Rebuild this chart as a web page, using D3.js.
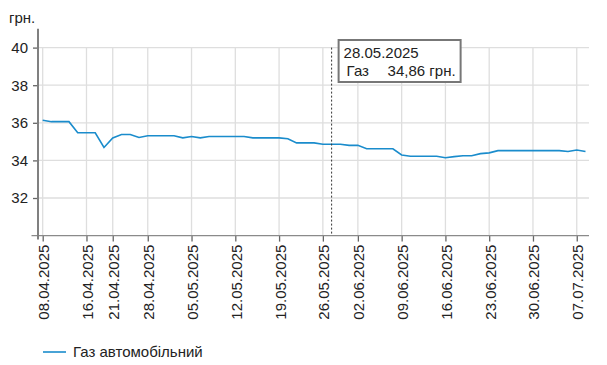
<!DOCTYPE html>
<html><head><meta charset="utf-8">
<script src="https://cdn.jsdelivr.net/npm/d3@7"></script>
<style>
html,body{margin:0;padding:0;background:#fff;}
text{font-family:"Liberation Sans",Arial,sans-serif;fill:#222;}
</style></head>
<body><svg id="c" width="607" height="365"></svg>
<script>
const dates = [
"08.04.2025","09.04.2025","11.04.2025","14.04.2025","15.04.2025","16.04.2025",
"17.04.2025","18.04.2025","21.04.2025",
"22.04.2025","23.04.2025","24.04.2025","28.04.2025",
"29.04.2025","30.04.2025","01.05.2025","02.05.2025","05.05.2025",
"06.05.2025","07.05.2025","08.05.2025","09.05.2025","12.05.2025",
"13.05.2025","14.05.2025","15.05.2025","16.05.2025","19.05.2025",
"20.05.2025","21.05.2025","22.05.2025","23.05.2025","26.05.2025",
"28.05.2025","29.05.2025","30.05.2025","02.06.2025",
"03.06.2025","04.06.2025","05.06.2025","06.06.2025","09.06.2025",
"10.06.2025","11.06.2025","12.06.2025","13.06.2025","16.06.2025",
"17.06.2025","18.06.2025","19.06.2025","20.06.2025","23.06.2025",
"24.06.2025","25.06.2025","26.06.2025","27.06.2025","30.06.2025",
"01.07.2025","02.07.2025","03.07.2025","04.07.2025","07.07.2025",
"08.07.2025"];
const gasPrices = [
36.14,36.06,36.06,36.06,35.47,35.47,
35.47,34.69,35.19,
35.38,35.38,35.22,35.31,
35.31,35.31,35.31,35.20,35.27,
35.20,35.27,35.27,35.27,35.27,
35.27,35.20,35.20,35.20,35.20,
35.15,34.93,34.93,34.93,34.86,
34.86,34.86,34.80,34.80,
34.62,34.62,34.62,34.62,34.29,
34.22,34.22,34.22,34.22,34.14,
34.20,34.25,34.25,34.36,34.40,
34.52,34.52,34.52,34.52,34.52,
34.52,34.52,34.52,34.47,34.55,
34.47];
const xTickLabels = ["08.04.2025","16.04.2025","21.04.2025","28.04.2025","05.05.2025","12.05.2025","19.05.2025","26.05.2025","02.06.2025","09.06.2025","16.06.2025","23.06.2025","30.06.2025","07.07.2025"];
const yTicks = [32,34,36,38,40];
const seriesName = "Газ автомобільний";
const unit = "грн.";
const tooltipDate = "28.05.2025";

const svg = d3.select("#c");
const x = d3.scalePoint().domain(dates).range([42.7, 585.5]);
const y = d3.scaleLinear().domain([30, 41]).range([235.6, 28.8]);
const plotL = 38, plotR = 589;

// grid
const g = svg.append("g");
g.selectAll("line.h").data(yTicks).join("line")
  .attr("x1", plotL).attr("x2", plotR)
  .attr("y1", d => y(d)).attr("y2", d => y(d))
  .attr("stroke", "#dedede").attr("stroke-width", 1.3);
g.selectAll("line.v").data(xTickLabels).join("line")
  .attr("x1", d => x(d)).attr("x2", d => x(d))
  .attr("y1", y(40)).attr("y2", y(30))
  .attr("stroke", "#dedede").attr("stroke-width", 1.3);

// x axis
const xAxis = svg.append("g").attr("transform", `translate(0,${y(30)})`)
  .call(d3.axisBottom(x).tickValues(xTickLabels).tickSize(6).tickSizeOuter(0));
xAxis.select(".domain").remove();
xAxis.append("line").attr("x1", 31.5).attr("x2", plotR).attr("y1", 0).attr("y2", 0)
  .attr("stroke", "#8a8a8a").attr("stroke-width", 1.3);
xAxis.selectAll(".tick line").attr("stroke", "#666").attr("stroke-width", 1.3);
xAxis.selectAll(".tick text")
  .attr("transform", "rotate(-90)")
  .attr("text-anchor", "end")
  .attr("x", -9).attr("y", 0).attr("dy", "0.4em")
  .attr("font-size", 15).attr("fill", "#222");

// y axis
const yAxis = svg.append("g").attr("transform", `translate(${plotL},0)`)
  .call(d3.axisLeft(y).tickValues(yTicks).tickSize(5).tickSizeOuter(0));
yAxis.select(".domain").remove();
yAxis.append("line").attr("x1", 0).attr("x2", 0).attr("y1", y(41)).attr("y2", y(30) + 4)
  .attr("stroke", "#808080").attr("stroke-width", 2);
yAxis.selectAll(".tick line").attr("stroke", "#666").attr("stroke-width", 1.3);
yAxis.selectAll(".tick text").attr("x", -10).attr("font-size", 15).attr("fill", "#222");

svg.append("text").attr("x", 9).attr("y", 22.5).attr("font-size", 15).text(unit);

// line
const line = d3.line().x((d, i) => x(dates[i])).y(d => y(d));
svg.append("path").datum(gasPrices)
  .attr("d", line).attr("fill", "none")
  .attr("stroke", "#1a8ccc").attr("stroke-width", 1.6);

// crosshair + tooltip
const tx = x(tooltipDate);
svg.append("line").attr("x1", tx).attr("x2", tx).attr("y1", y(40)).attr("y2", y(30))
  .attr("stroke", "#333").attr("stroke-width", 1).attr("stroke-dasharray", "2,2");
const tip = svg.append("g");
tip.append("rect").attr("x", tx + 7).attr("y", 40).attr("width", 122).attr("height", 42)
  .attr("fill", "#fff").attr("stroke", "#777").attr("stroke-width", 2);
tip.append("text").attr("x", tx + 12).attr("y", 58).attr("font-size", 15).attr("fill", "#111").text(tooltipDate);
const val = gasPrices[dates.indexOf(tooltipDate)];
tip.append("text").attr("x", tx + 15).attr("y", 76).attr("font-size", 15).attr("fill", "#111").text("Газ");
tip.append("text").attr("x", tx + 56).attr("y", 76).attr("font-size", 15).attr("fill", "#111")
  .text(d3.format(".2f")(val).replace(".", ",") + " " + unit);

// legend
svg.append("line").attr("x1", 43).attr("x2", 66).attr("y1", 352).attr("y2", 352)
  .attr("stroke", "#1a8ccc").attr("stroke-width", 1.6);
svg.append("text").attr("x", 73).attr("y", 357).attr("font-size", 15).text(seriesName);
</script></body></html>
